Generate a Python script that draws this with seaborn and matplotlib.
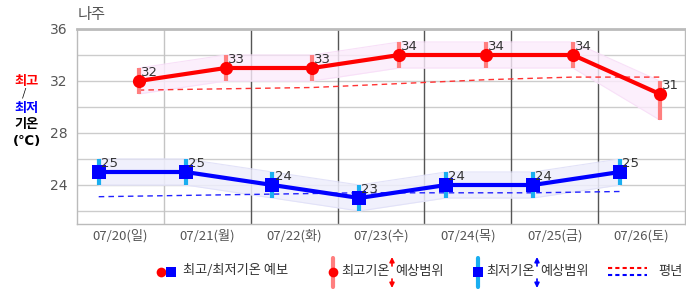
import numpy as np
import pandas as pd
import matplotlib
matplotlib.use("Agg")
import matplotlib.pyplot as plt
import seaborn as sns

# ---------------- data ----------------
dates = ["07/20(일)", "07/21(월)", "07/22(화)", "07/23(수)", "07/24(목)", "07/25(금)", "07/26(토)"]
max_temp = [32, 33, 33, 34, 34, 34, 31]
max_low = [31, 32, 32, 33, 33, 33, 29]
max_high = [33, 34, 34, 35, 35, 35, 32]
min_temp = [25, 25, 24, 23, 24, 24, 25]
min_low = [24, 24, 23, 22, 23, 23, 24]
min_high = [26, 26, 25, 24, 25, 25, 26]
normal_max = [31.3, 31.4, 31.5, 31.8, 32.1, 32.3, 32.3]
normal_min = [23.1, 23.2, 23.3, 23.4, 23.4, 23.4, 23.5]
y_ticks = [24, 28, 32, 36]
title = "나주"

sns.set_theme(style="white")
plt.rcParams['font.family'] = ['Noto Sans CJK KR', 'DejaVu Sans']

W, H = 686, 295
fig = plt.figure(figsize=(W / 100, H / 100), dpi=100)
ax = fig.add_axes([77 / W, 1 - 224 / H, 608 / W, 195 / H])

idx = np.arange(len(dates))
x_min = idx + 0.25
x_max = idx + 0.71

df_max = pd.DataFrame({"x": x_max, "y": max_temp})
df_min = pd.DataFrame({"x": x_min, "y": min_temp})

# grid
for v in range(22, 37, 2):
    ax.axhline(v, color="#cccccc", lw=1, zorder=0)
ax.axvline(1, color="#c4c4c4", lw=1, zorder=0)
for v in range(2, 7):
    ax.axvline(v, color="#555555", lw=1, zorder=0)

# bands
ax.fill_between(x_max, max_low, max_high, color="#fcecfc", alpha=0.8, lw=0, zorder=1)
ax.plot(x_max, max_low, color="#f8e0f8", lw=0.8, zorder=1)
ax.plot(x_max, max_high, color="#f8e0f8", lw=0.8, zorder=1)
ax.fill_between(x_min, min_low, min_high, color="#eeeefc", alpha=0.85, lw=0, zorder=1)
ax.plot(x_min, min_low, color="#e2e2f8", lw=0.8, zorder=1)
ax.plot(x_min, min_high, color="#e2e2f8", lw=0.8, zorder=1)

# normal lines
sns.lineplot(x=x_max, y=normal_max, ax=ax, color="#ff3333", lw=1, dashes=False,
             linestyle=(0, (4, 3)), zorder=2)
sns.lineplot(x=x_min, y=normal_min, ax=ax, color="#2222ff", lw=1, dashes=False,
             linestyle=(0, (4, 3)), zorder=2)

# range bars
ax.vlines(x_max, max_low, max_high, color="#ff7f7f", lw=3, zorder=3)
ax.vlines(x_min, min_low, min_high, color="#1aaef0", lw=3, zorder=3)

# main lines
sns.lineplot(data=df_max, x="x", y="y", ax=ax, color="#ff0000", lw=3,
             marker="o", markersize=9.5, markeredgewidth=0, zorder=4)
sns.lineplot(data=df_min, x="x", y="y", ax=ax, color="#0000ff", lw=3,
             marker="s", markersize=9.5, markeredgewidth=0, zorder=4)

for xx, yy in zip(x_max, max_temp):
    ax.annotate(str(yy), (xx, yy), xytext=(1.5, 1.5), textcoords="offset points",
                ha="left", va="bottom", fontsize=9.5, color="#333333",
                family=["DejaVu Sans"], zorder=5)
for xx, yy in zip(x_min, min_temp):
    ax.annotate(str(yy), (xx, yy), xytext=(1.5, 1.5), textcoords="offset points",
                ha="left", va="bottom", fontsize=9.5, color="#333333",
                family=["DejaVu Sans"], zorder=5)

ax.set_xlim(0, 7)
ax.set_ylim(21, 36)
ax.set_xticks(idx + 0.5)
ax.set_xticklabels(dates, fontsize=9.5, color="#555555")
ax.set_yticks(y_ticks)
ax.set_yticklabels([str(t) for t in y_ticks], fontsize=10, color="#555555",
                   family=["DejaVu Sans"])
ax.tick_params(axis="both", length=0)
ax.tick_params(axis="y", pad=7)
ax.tick_params(axis="x", pad=4)
ax.set_xlabel("")
ax.set_ylabel("")
for s in ["left", "bottom", "right"]:
    ax.spines[s].set_color("#bbbbbb")
    ax.spines[s].set_linewidth(1)
ax.spines["top"].set_color("#bbbbbb")
ax.spines["top"].set_linewidth(2)

# title and left labels
def px(x, y):
    return x / W, 1 - y / H

fig.text(*px(78, 15), title, fontsize=11, color="#555555", ha="left", va="center")
fig.text(*px(27, 81), "최고", fontsize=9.5, color="#ff0000", weight="bold", ha="center", va="center")
fig.text(*px(24, 93), "/", fontsize=8, color="#000000", ha="center", va="center")
fig.text(*px(27, 108), "최저", fontsize=9.5, color="#0000ff", weight="bold", ha="center", va="center")
fig.text(*px(27, 124), "기온", fontsize=9.5, color="#000000", weight="bold", ha="center", va="center")
fig.text(*px(27, 141), "(℃)", fontsize=9.5, color="#000000", weight="bold", ha="center", va="center",
         family=["DejaVu Sans"])

# legend (drawn in pixel coordinates)
lax = fig.add_axes([0, 0, 1, 1], zorder=10)
lax.set_xlim(0, W)
lax.set_ylim(H, 0)
lax.axis("off")
lax.patch.set_alpha(0)
lfs = 9.5
lc = "#333333"
lax.plot([161], [272], "o", color="#ff0000", ms=7, mew=0)
lax.plot([171], [272], "s", color="#0000ff", ms=7, mew=0)
lax.text(183, 271, "최고/최저기온 예보", fontsize=lfs, color=lc, va="center", ha="left")

lax.plot([333, 333], [258, 287], color="#ff7f7f", lw=3)
lax.plot([333], [272], "o", color="#ff0000", ms=7, mew=0)
lax.text(341, 271, "최고기온", fontsize=lfs, color=lc, va="center", ha="left")
for (a, b) in [((392, 257), (392, 266)), ((392, 288), (392, 279))]:
    lax.annotate("", xy=a, xytext=b,
                 arrowprops=dict(arrowstyle="-|>", color="#ff0000", lw=1.2,
                                 mutation_scale=7, shrinkA=0, shrinkB=0))
lax.text(395, 271, "예상범위", fontsize=lfs, color=lc, va="center", ha="left")

lax.plot([478, 478], [258, 287], color="#1aaef0", lw=3)
lax.plot([478], [272], "s", color="#0000ff", ms=7, mew=0)
lax.text(486, 271, "최저기온", fontsize=lfs, color=lc, va="center", ha="left")
for (a, b) in [((537, 257), (537, 266)), ((537, 288), (537, 279))]:
    lax.annotate("", xy=a, xytext=b,
                 arrowprops=dict(arrowstyle="-|>", color="#0000ff", lw=1.2,
                                 mutation_scale=7, shrinkA=0, shrinkB=0))
lax.text(540, 271, "예상범위", fontsize=lfs, color=lc, va="center", ha="left")

lax.plot([608, 647], [268, 268], color="#ff0000", lw=1.5, linestyle=(0, (2, 1.5)))
lax.plot([608, 647], [275, 275], color="#0000ff", lw=1.5, linestyle=(0, (2, 1.5)))
lax.text(658, 271, "평년", fontsize=lfs, color=lc, va="center", ha="left")

fig.savefig("out.png", dpi=100)
